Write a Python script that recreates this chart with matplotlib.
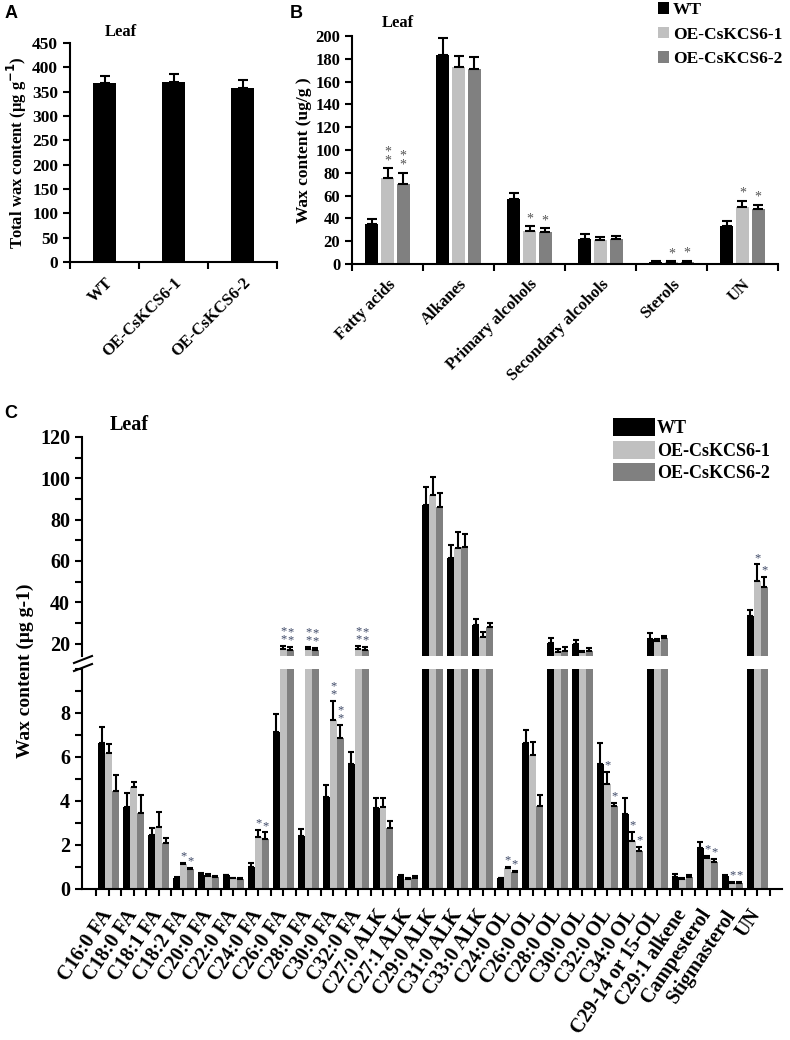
import numpy as np
import matplotlib
matplotlib.use('Agg')
import matplotlib.pyplot as plt
from matplotlib.lines import Line2D
from matplotlib.ticker import MultipleLocator

plt.rcParams['font.family'] = ['Liberation Serif', 'DejaVu Serif']
plt.rcParams['font.weight'] = 'bold'
plt.rcParams['axes.labelweight'] = 'bold'
plt.rcParams['mathtext.default'] = 'bf'
plt.rcParams['axes.linewidth'] = 1.5

lines = ['WT', 'OE-CsKCS6-1', 'OE-CsKCS6-2']
colours = ['#000000', '#c0c0c0', '#808080']

# panel A: total wax
total_mean = [368, 370, 357]
total_err = [15, 17, 18]

# panel B: wax classes
class_names = ['Fatty acids', 'Alkanes', 'Primary alcohols', 'Secondary alcohols', 'Sterols', 'UN']
class_wt = [35.3, 183.5, 56.9, 22.2, 2.0, 33.2]
class_oe1 = [75.2, 172.6, 28.6, 21.3, 1.7, 50.4]
class_oe2 = [70.3, 170.8, 28.0, 22.2, 2.0, 48.1]
class_wt_err = [4.1, 15.0, 5.2, 4.0, 1.0, 4.4]
class_oe1_err = [8.8, 9.6, 4.4, 2.0, 0.6, 5.0]
class_oe2_err = [9.9, 11.2, 3.2, 2.0, 1.0, 3.8]
class_sig1 = ['**', '', '*', '', '*', '*']
class_sig2 = ['**', '', '*', '', '*', '*']

# panel C: single compounds
comp_names = ['C16:0 FA', 'C18:0 FA', 'C18:1 FA', 'C18:2 FA', 'C20:0 FA', 'C22:0 FA',
              'C24:0 FA', 'C26:0 FA', 'C28:0 FA', 'C30:0 FA', 'C32:0 FA', 'C27:0 ALK',
              'C27:1 ALK', 'C29:0 ALK', 'C31:0 ALK', 'C33:0 ALK', 'C24:0 OL', 'C26:0 OL',
              'C28:0 OL', 'C30:0 OL', 'C32:0 OL', 'C34:0 OL', 'C29-14 or 15-OL',
              'C29:1 alkene', 'Campesterol', 'Stigmasterol', 'UN']
comp_wt = [6.65, 3.73, 2.46, 0.52, 0.65, 0.62, 1.02, 7.14, 2.42, 4.17, 5.66, 3.70, 0.60,
           87.0, 61.3, 28.8, 0.48, 6.62, 20.5, 19.8, 5.70, 3.40, 22.3, 0.54, 1.87, 0.60, 33.2]
comp_wt_err = [0.72, 0.65, 0.30, 0.02, 0.10, 0.03, 0.14, 0.82, 0.33, 0.55, 0.56, 0.45, 0.03,
               9.0, 6.4, 3.0, 0.02, 0.62, 2.2, 1.8, 0.93, 0.72, 3.0, 0.12, 0.27, 0.04, 3.2]
comp_oe1 = [6.19, 4.64, 2.80, 1.12, 0.60, 0.48, 2.38, 17.5, 17.5, 7.67, 17.5, 3.75, 0.45,
            92.0, 66.1, 23.3, 0.94, 6.07, 16.0, 15.7, 4.76, 2.19, 21.2, 0.46, 1.40, 0.27, 50.3]
comp_oe1_err = [0.42, 0.24, 0.72, 0.06, 0.07, 0.04, 0.30, 1.2, 1.0, 0.88, 1.2, 0.38, 0.07,
                8.7, 8.1, 2.2, 0.08, 0.62, 1.6, 0.8, 0.56, 0.42, 1.2, 0.05, 0.12, 0.05, 8.0]
comp_oe2 = [4.46, 3.47, 2.07, 0.92, 0.55, 0.47, 2.27, 17.0, 17.0, 6.87, 17.0, 2.76, 0.50,
            86.3, 66.6, 27.9, 0.78, 3.78, 16.5, 16.5, 3.78, 1.74, 22.7, 0.56, 1.25, 0.27, 47.6]
comp_oe2_err = [0.72, 0.80, 0.27, 0.05, 0.05, 0.05, 0.30, 1.2, 1.0, 0.58, 1.2, 0.34, 0.08,
                6.4, 6.5, 2.3, 0.04, 0.48, 2.0, 1.6, 0.15, 0.19, 0.8, 0.06, 0.12, 0.04, 4.5]
comp_sig1 = ['', '', '', '*', '', '', '*', '**', '**', '**', '**', '', '', '', '', '', '*', '',
             '', '', '*', '*', '', '', '*', '*', '*']
comp_sig2 = ['', '', '', '*', '', '', '*', '**', '**', '**', '**', '', '', '', '', '', '*', '',
             '', '', '*', '*', '', '', '*', '*', '*']

W, H = 790, 1040
fig = plt.figure(figsize=(W / 100, H / 100), dpi=100)


def box(l, t, r, b):
    return [l / W, 1 - b / H, (r - l) / W, (b - t) / H]


def style(ax, fs):
    for s in ['top', 'right']:
        ax.spines[s].set_visible(False)
    ax.tick_params(direction='out', length=5, width=1.5, labelsize=fs)
    ax.tick_params(which='minor', direction='out', length=5, width=1.5)


def bold_ticks(ax):
    for t in ax.get_xticklabels(which='both') + ax.get_yticklabels(which='both'):
        t.set_fontweight('bold')


def stars(ax, x, top, s, col, fs=9):
    if not s:
        return
    txt = '*\n*' if s == '**' else '*'
    ax.annotate(txt, (x, top), xytext=(0, 0), textcoords='offset points', ha='center',
                va='bottom', fontsize=fs, color=col, linespacing=0.55, fontweight='normal',
                annotation_clip=False)


sans = ['Liberation Sans', 'DejaVu Sans']

# ---- A ----
axA = fig.add_axes(box(70, 43, 277, 262))
xa = np.arange(3)
axA.bar(xa, total_mean, 0.33, color='black')
axA.errorbar(xa, total_mean, yerr=[np.zeros(3), total_err], fmt='none', ecolor='black',
             elinewidth=1.5, capsize=3.5, capthick=1.5)
axA.set_xlim(-0.5, 2.5)
axA.set_ylim(0, 450)
axA.set_yticks(np.arange(0, 451, 50))
axA.set_xticks(np.arange(-0.5, 3, 1))
axA.set_xticklabels([])
axA.set_xticks(xa, minor=True)
axA.set_xticklabels(lines, minor=True, rotation=45, ha='right', rotation_mode='anchor')
style(axA, 12.5)
axA.tick_params(axis='x', which='minor', length=0, labelsize=12, pad=9)
axA.set_ylabel('Total wax content (μg g$^{-1}$)', fontsize=12, labelpad=2,
               fontweight='bold')
axA.text(0.17, 1.03, 'Leaf', transform=axA.transAxes, fontsize=12, ha='left')
fig.text(5 / W, 1 - 18 / H, 'A', fontsize=13, fontweight='bold', family=sans)
bold_ticks(axA)

# ---- B ----
axB = fig.add_axes(box(352, 36, 778, 264))
xb = np.arange(len(class_names))
off = 0.22
bw = 0.18
b_vals = [class_wt, class_oe1, class_oe2]
b_errs = [class_wt_err, class_oe1_err, class_oe2_err]
b_sigs = [None, class_sig1, class_sig2]
for j in range(3):
    xs = xb + (j - 1) * off
    axB.bar(xs, b_vals[j], bw, color=colours[j], label=lines[j])
    axB.errorbar(xs, b_vals[j], yerr=[np.zeros(len(xb)), b_errs[j]], fmt='none',
                 ecolor='black', elinewidth=1.5, capsize=3.5, capthick=1.5)
    if b_sigs[j]:
        for k in range(len(xb)):
            stars(axB, xs[k], b_vals[j][k] + b_errs[j][k] + 1, b_sigs[j][k], '#555555', 10)
axB.set_xlim(-0.5, len(xb) - 0.5)
axB.set_ylim(0, 200)
axB.set_yticks(np.arange(0, 201, 20))
axB.set_xticks(np.arange(-0.5, len(xb), 1))
axB.set_xticklabels([])
axB.set_xticks(xb, minor=True)
axB.set_xticklabels(class_names, minor=True, rotation=45, ha='right', rotation_mode='anchor')
style(axB, 12)
axB.tick_params(axis='x', which='minor', length=0, labelsize=12, pad=9)
axB.set_ylabel('Wax content (ug/g )', fontsize=12.5, labelpad=2, fontweight='bold')
axB.text(0.07, 1.04, 'Leaf', transform=axB.transAxes, fontsize=12, ha='left')
axB.legend(loc='upper left', bbox_to_anchor=(658 / W, 1 - 2 / H),
           bbox_transform=fig.transFigure, frameon=False, fontsize=12.5,
           handlelength=0.65, handleheight=0.65, handletextpad=0.2, labelspacing=0.5,
           borderaxespad=0, borderpad=0)
fig.text(290 / W, 1 - 18 / H, 'B', fontsize=13, fontweight='bold', family=sans)
bold_ticks(axB)

# ---- C (broken axis) ----
axT = fig.add_axes(box(82, 437, 782, 656))
axL = fig.add_axes(box(82, 669, 782, 889))
xc = np.arange(len(comp_names))
cw = 0.28
c_vals = [comp_wt, comp_oe1, comp_oe2]
c_errs = [comp_wt_err, comp_oe1_err, comp_oe2_err]
c_sigs = [None, comp_sig1, comp_sig2]
for ax in (axT, axL):
    for j in range(3):
        xs = xc + (j - 1) * cw
        ax.bar(xs, c_vals[j], cw, color=colours[j], label=lines[j])
        ax.errorbar(xs, c_vals[j], yerr=[np.zeros(len(xc)), c_errs[j]], fmt='none',
                    ecolor='black', elinewidth=1.5, capsize=2.5, capthick=1.5)
    ax.set_xlim(-1.07, 27.0)
    style(ax, 14.5)

for j in (1, 2):
    xs = xc + (j - 1) * cw
    for k in range(len(xc)):
        top = c_vals[j][k] + c_errs[j][k]
        if top >= 14:
            stars(axT, xs[k], top + 0.3, c_sigs[j][k], '#3d4866', 9)
        else:
            stars(axL, xs[k], top + 0.02, c_sigs[j][k], '#3d4866', 9)

axT.set_ylim(14, 120)
axT.set_yticks(np.arange(20, 121, 20))
axT.yaxis.set_minor_locator(MultipleLocator(10))
axT.spines['bottom'].set_visible(False)
axT.set_xticks([])
axT.set_xticks([], minor=True)

axL.set_ylim(0, 10)
axL.set_yticks(np.arange(0, 9, 2))
axL.yaxis.set_minor_locator(MultipleLocator(1))
axL.set_xticks(xc)
axL.set_xticklabels(comp_names, rotation=56, ha='right', va='center', rotation_mode='anchor')
axL.set_xticks(np.arange(-0.5, len(xc), 1), minor=True)
axL.tick_params(axis='x', labelsize=14.5, pad=11)
bold_ticks(axT)
bold_ticks(axL)

axT.legend(loc='upper left', bbox_to_anchor=(613 / W, 1 - 418 / H),
           bbox_transform=fig.transFigure, frameon=False, fontsize=13,
           handlelength=2.3, handleheight=1.15, handletextpad=0.15, labelspacing=0.2,
           borderaxespad=0, borderpad=0)
axT.text(110 / W, 1 - 425 / H, 'Leaf', transform=fig.transFigure, fontsize=14.5,
         ha='left', va='center')
fig.text(4 / W, 1 - 418 / H, 'C', fontsize=13, fontweight='bold', family=sans)
fig.text(25 / W, 1 - 671 / H, 'Wax content (μg g-1)', rotation=90, fontsize=14,
         ha='center', va='center', fontweight='bold')

# break marks on the y axis
for y0 in (663, 671):
    fig.add_artist(Line2D([74 / W, 92 / W], [1 - y0 / H, 1 - (y0 - 7) / H],
                          transform=fig.transFigure, color='black', lw=1.5))

fig.savefig('out.png', dpi=100)
